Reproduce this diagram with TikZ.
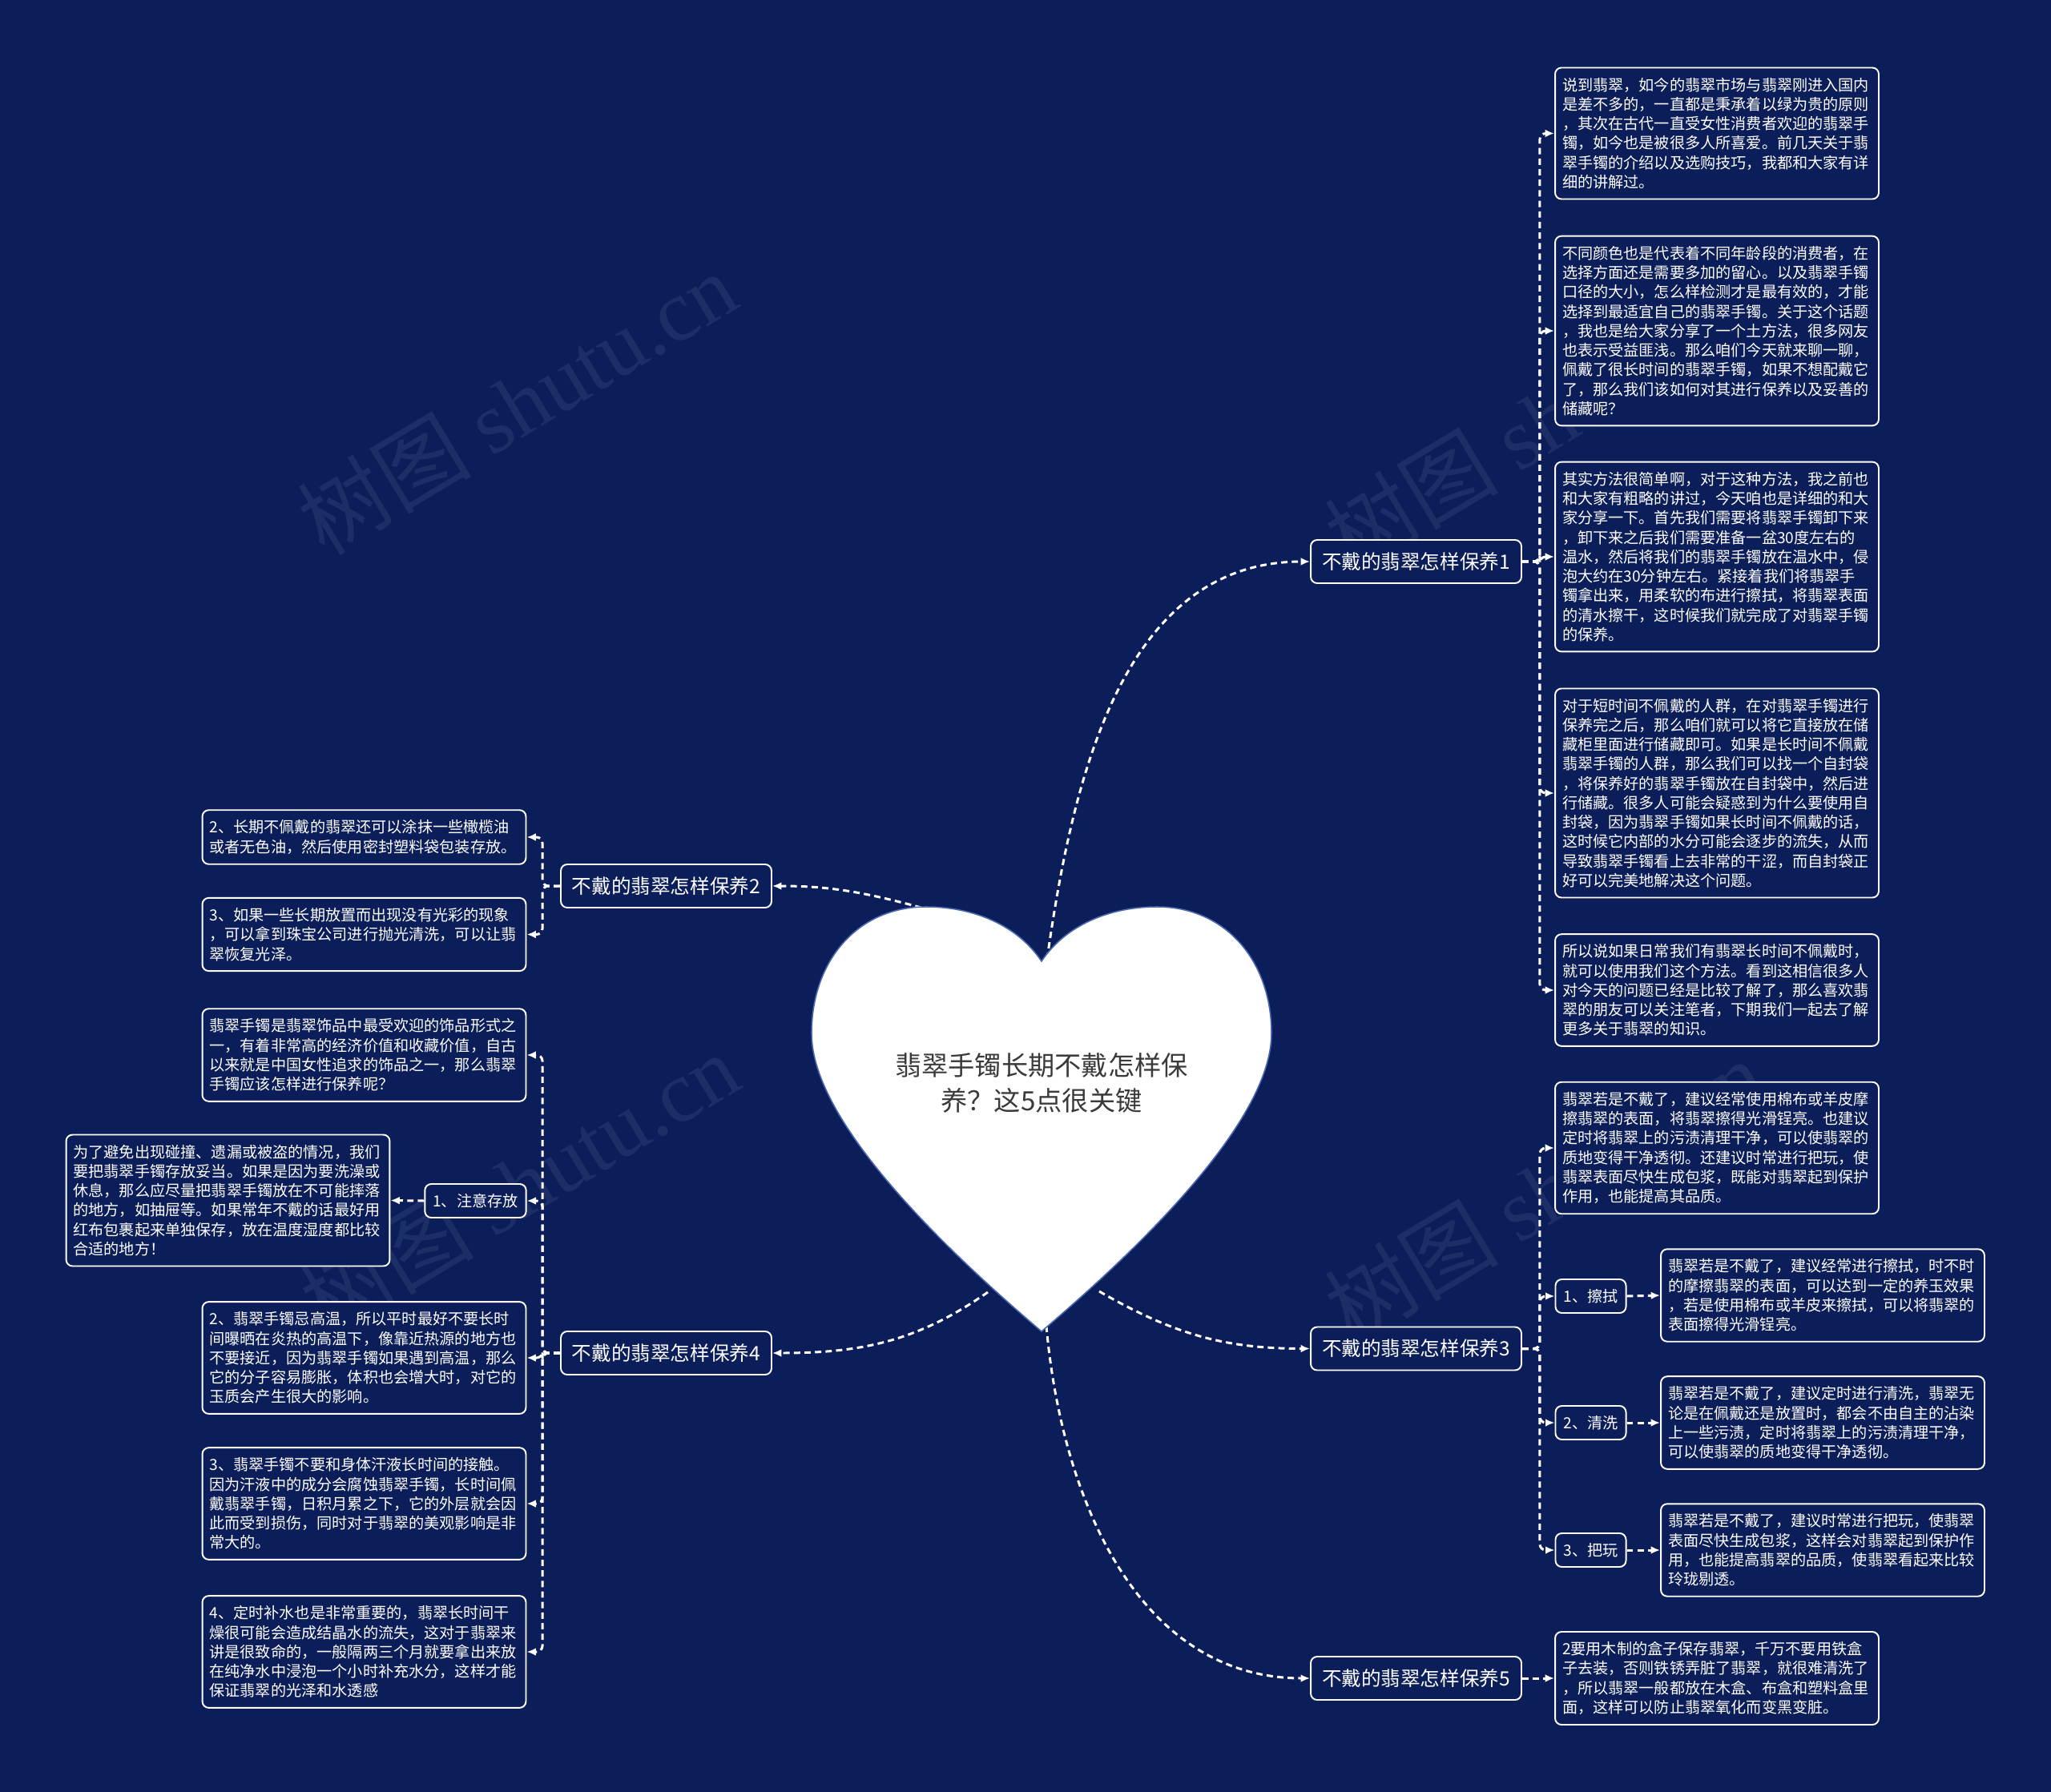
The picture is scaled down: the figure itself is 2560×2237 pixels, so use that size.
\documentclass[tikz,border=0pt]{standalone}
\usepackage{fontspec}
\setmainfont{Noto Sans CJK SC}
\newfontfamily\wmfont{Liberation Serif}
\usetikzlibrary{arrows.meta}
\definecolor{bgNavy}{HTML}{0C1E5A}
\definecolor{heartEdge}{HTML}{4A68B0}
\definecolor{titleGray}{HTML}{3A3A3A}

\begin{document}
\begin{tikzpicture}[x=0.02cm, y=-0.02cm,
    leaf/.style={rectangle, draw=white, line width=1.1pt, rounded corners=0.16cm, fill=bgNavy,
      text=white, text width=7.72cm, align=left, inner xsep=0.18cm, inner ysep=0.25cm,
      font=\fontsize{10.9}{13.8}\selectfont},
    branch/.style={rectangle, draw=white, line width=1.1pt, rounded corners=0.16cm, fill=bgNavy,
      text=white, minimum width=5.26cm, minimum height=1.08cm, font=\fontsize{14}{16}\selectfont},
    tag/.style={rectangle, draw=white, line width=1.1pt, rounded corners=0.16cm, fill=bgNavy,
      text=white, minimum height=0.84cm, inner xsep=0.2cm, font=\fontsize{10.9}{13.8}\selectfont},
    conn/.style={draw=white, line width=1.7pt, dash pattern=on 4.5pt off 3pt,
      -{Latex[length=6.5pt,width=5.5pt]}},
    wm/.style={text=white, opacity=0.07, font=\fontsize{62}{64}\selectfont, rotate=31}]
  \useasboundingbox (0,0) rectangle (2560,2237);
  \fill[bgNavy] (0,0) rectangle (2560,2237);

  % --- watermark ---
  \node[wm] (wm1) at (645,503) {树图 {\wmfont shutu.cn}};
  \node[wm] (wm2) at (648,1478) {树图 {\wmfont shutu.cn}};
  \node[wm] (wm3) at (1927,523) {树图 {\wmfont shutu.cn}};
  \node[wm] (wm4) at (1927,1486) {树图 {\wmfont shutu.cn}};

  % --- branches ---
  \node[branch] (b1) at (1767.5,701) {不戴的翡翠怎样保养1};
  \node[branch] (b2) at (831.5,1106) {不戴的翡翠怎样保养2};
  \node[branch] (b3) at (1767.5,1683.5) {不戴的翡翠怎样保养3};
  \node[branch] (b4) at (831.5,1689) {不戴的翡翠怎样保养4};
  \node[branch] (b5) at (1767.5,2095) {不戴的翡翠怎样保养5};

  % --- 保养1: right column ---
  \node[leaf] (r1a) at (2143,166.5) {说到翡翠，如今的翡翠市场与翡翠刚进入国内\\是差不多的，一直都是秉承着以绿为贵的原则\\，其次在古代一直受女性消费者欢迎的翡翠手\\镯，如今也是被很多人所喜爱。前几天关于翡\\翠手镯的介绍以及选购技巧，我都和大家有详\\细的讲解过。};
  \node[leaf] (r1b) at (2143,413) {不同颜色也是代表着不同年龄段的消费者，在\\选择方面还是需要多加的留心。以及翡翠手镯\\口径的大小，怎么样检测才是最有效的，才能\\选择到最适宜自己的翡翠手镯。关于这个话题\\，我也是给大家分享了一个土方法，很多网友\\也表示受益匪浅。那么咱们今天就来聊一聊，\\佩戴了很长时间的翡翠手镯，如果不想配戴它\\了，那么我们该如何对其进行保养以及妥善的\\储藏呢？};
  \node[leaf] (r1c) at (2143,695) {其实方法很简单啊，对于这种方法，我之前也\\和大家有粗略的讲过，今天咱也是详细的和大\\家分享一下。首先我们需要将翡翠手镯卸下来\\，卸下来之后我们需要准备一盆30度左右的\\温水，然后将我们的翡翠手镯放在温水中，侵\\泡大约在30分钟左右。紧接着我们将翡翠手\\镯拿出来，用柔软的布进行擦拭，将翡翠表面\\的清水擦干，这时候我们就完成了对翡翠手镯\\的保养。};
  \node[leaf] (r1d) at (2143,990) {对于短时间不佩戴的人群，在对翡翠手镯进行\\保养完之后，那么咱们就可以将它直接放在储\\藏柜里面进行储藏即可。如果是长时间不佩戴\\翡翠手镯的人群，那么我们可以找一个自封袋\\，将保养好的翡翠手镯放在自封袋中，然后进\\行储藏。很多人可能会疑惑到为什么要使用自\\封袋，因为翡翠手镯如果长时间不佩戴的话，\\这时候它内部的水分可能会逐步的流失，从而\\导致翡翠手镯看上去非常的干涩，而自封袋正\\好可以完美地解决这个问题。};
  \node[leaf] (r1e) at (2143,1236) {所以说如果日常我们有翡翠长时间不佩戴时，\\就可以使用我们这个方法。看到这相信很多人\\对今天的问题已经是比较了解了，那么喜欢翡\\翠的朋友可以关注笔者，下期我们一起去了解\\更多关于翡翠的知识。};

  % --- 保养3: right column ---
  \node[leaf] (r3a) at (2143,1433) {翡翠若是不戴了，建议经常使用棉布或羊皮摩\\擦翡翠的表面，将翡翠擦得光滑锃亮。也建议\\定时将翡翠上的污渍清理干净，可以使翡翠的\\质地变得干净透彻。还建议时常进行把玩，使\\翡翠表面尽快生成包浆，既能对翡翠起到保护\\作用，也能提高其品质。};
  \node[tag] (t1) at (1985.5,1618) {1、擦拭};
  \node[tag] (t2) at (1985.5,1776) {2、清洗};
  \node[tag] (t3) at (1985.5,1935) {3、把玩};
  \node[leaf] (d1) at (2275,1617) {翡翠若是不戴了，建议经常进行擦拭，时不时\\的摩擦翡翠的表面，可以达到一定的养玉效果\\，若是使用棉布或羊皮来擦拭，可以将翡翠的\\表面擦得光滑锃亮。};
  \node[leaf] (d2) at (2275,1776) {翡翠若是不戴了，建议定时进行清洗，翡翠无\\论是在佩戴还是放置时，都会不由自主的沾染\\上一些污渍，定时将翡翠上的污渍清理干净，\\可以使翡翠的质地变得干净透彻。};
  \node[leaf] (d3) at (2275,1935) {翡翠若是不戴了，建议时常进行把玩，使翡翠\\表面尽快生成包浆，这样会对翡翠起到保护作\\用，也能提高翡翠的品质，使翡翠看起来比较\\玲珑剔透。};

  % --- 保养5 ---
  \node[leaf] (r5) at (2143,2095) {2要用木制的盒子保存翡翠，千万不要用铁盒\\子去装，否则铁锈弄脏了翡翠，就很难清洗了\\，所以翡翠一般都放在木盒、布盒和塑料盒里\\面，这样可以防止翡翠氧化而变黑变脏。};

  % --- 保养2: left column ---
  \node[leaf] (l2a) at (454.5,1045) {2、长期不佩戴的翡翠还可以涂抹一些橄榄油\\或者无色油，然后使用密封塑料袋包装存放。};
  \node[leaf] (l2b) at (454.5,1166.5) {3、如果一些长期放置而出现没有光彩的现象\\，可以拿到珠宝公司进行抛光清洗，可以让翡\\翠恢复光泽。};

  % --- 保养4: left column ---
  \node[leaf] (l4a) at (454.5,1317) {翡翠手镯是翡翠饰品中最受欢迎的饰品形式之\\一，有着非常高的经济价值和收藏价值，自古\\以来就是中国女性追求的饰品之一，那么翡翠\\手镯应该怎样进行保养呢？};
  \node[tag] (t4) at (593.5,1499) {1、注意存放};
  \node[leaf] (l4b) at (284.5,1498.5) {为了避免出现碰撞、遗漏或被盗的情况，我们\\要把翡翠手镯存放妥当。如果是因为要洗澡或\\休息，那么应尽量把翡翠手镯放在不可能摔落\\的地方，如抽屉等。如果常年不戴的话最好用\\红布包裹起来单独保存，放在温度湿度都比较\\合适的地方！};
  \node[leaf] (l4c) at (454.5,1695) {2、翡翠手镯忌高温，所以平时最好不要长时\\间曝晒在炎热的高温下，像靠近热源的地方也\\不要接近，因为翡翠手镯如果遇到高温，那么\\它的分子容易膨胀，体积也会增大时，对它的\\玉质会产生很大的影响。};
  \node[leaf] (l4d) at (454.5,1877) {3、翡翠手镯不要和身体汗液长时间的接触。\\因为汗液中的成分会腐蚀翡翠手镯，长时间佩\\戴翡翠手镯，日积月累之下，它的外层就会因\\此而受到损伤，同时对于翡翠的美观影响是非\\常大的。};
  \node[leaf] (l4e) at (454.5,2062) {4、定时补水也是非常重要的，翡翠长时间干\\燥很可能会造成结晶水的流失，这对于翡翠来\\讲是很致命的，一般隔两三个月就要拿出来放\\在纯净水中浸泡一个小时补充水分，这样才能\\保证翡翠的光泽和水透感};

  % --- connectors ---
  \draw[conn, rounded corners=0.15cm] (b1.east) -- ++(22,0) |- (r1a.west);
  \draw[conn, rounded corners=0.15cm] (b1.east) -- ++(22,0) |- (r1b.west);
  \draw[conn, rounded corners=0.15cm] (b1.east) -- ++(22,0) |- (r1c.west);
  \draw[conn, rounded corners=0.15cm] (b1.east) -- ++(22,0) |- (r1d.west);
  \draw[conn, rounded corners=0.15cm] (b1.east) -- ++(22,0) |- (r1e.west);
  \draw[conn, rounded corners=0.15cm] (b3.east) -- ++(22,0) |- (r3a.west);
  \draw[conn, rounded corners=0.15cm] (b3.east) -- ++(22,0) |- (t1.west);
  \draw[conn, rounded corners=0.15cm] (b3.east) -- ++(22,0) |- (t2.west);
  \draw[conn, rounded corners=0.15cm] (b3.east) -- ++(22,0) |- (t3.west);
  \draw[conn] (t1.east) -- (d1.west);
  \draw[conn] (t2.east) -- (d2.west);
  \draw[conn] (t3.east) -- (d3.west);
  \draw[conn] (b5.east) -- (r5.west);
  \draw[conn, rounded corners=0.15cm] (b2.west) -- ++(-22,0) |- (l2a.east);
  \draw[conn, rounded corners=0.15cm] (b2.west) -- ++(-22,0) |- (l2b.east);
  \draw[conn, rounded corners=0.15cm] (b4.west) -- ++(-22,0) |- (l4a.east);
  \draw[conn, rounded corners=0.15cm] (b4.west) -- ++(-22,0) |- (t4.east);
  \draw[conn, rounded corners=0.15cm] (b4.west) -- ++(-22,0) |- (l4c.east);
  \draw[conn, rounded corners=0.15cm] (b4.west) -- ++(-22,0) |- (l4d.east);
  \draw[conn, rounded corners=0.15cm] (b4.west) -- ++(-22,0) |- (l4e.east);
  \draw[conn] (t4.west) -- (l4b.east);

  % --- heart ---
  \coordinate (hTop) at (1307,1197);
  \coordinate (hUL) at (1150,1133);
  \coordinate (hLL) at (1233,1613);
  \coordinate (hLR) at (1372,1612);
  \coordinate (hBot) at (1306,1655);
  \draw[conn] (hTop) to[out=82,in=180] (b1.west);
  \draw[conn] (hUL) to[out=165,in=0] (b2.east);
  \draw[conn] (hLL) to[out=215,in=0] (b4.east);
  \draw[conn] (hLR) to[out=-30,in=180] (b3.west);
  \draw[conn] (hBot) to[out=-85,in=180] (b5.west);
  \filldraw[fill=white, draw=heartEdge, line width=0.9pt]
    (1300,1200) .. controls (1330,1155) and (1385,1132) .. (1444,1132)
    .. controls (1530,1132) and (1587,1200) .. (1587,1290)
    .. controls (1587,1400) and (1420,1560) .. (1300,1662)
    .. controls (1180,1560) and (1013,1400) .. (1013,1290)
    .. controls (1013,1200) and (1070,1132) .. (1156,1132)
    .. controls (1215,1132) and (1270,1155) .. (1300,1200) -- cycle;
  \node[font=\fontsize{18.9}{25}\selectfont, text=titleGray, align=center] (title) at (1300,1352)
    {翡翠手镯长期不戴怎样保\\养？这5点很关键};
\end{tikzpicture}
\end{document}
